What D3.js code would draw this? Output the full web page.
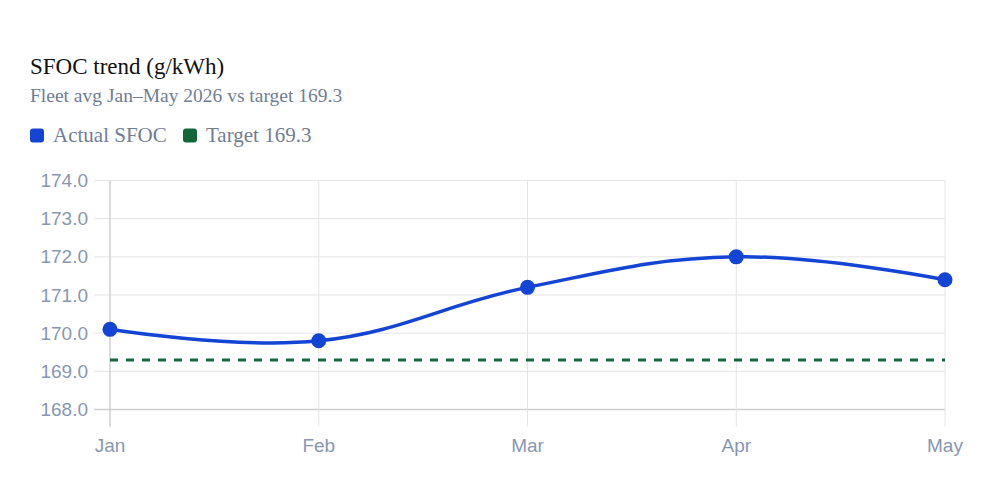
<!DOCTYPE html>
<html>
<head>
<meta charset="utf-8">
<script src="https://cdn.jsdelivr.net/npm/d3@7"></script>
<style>
  html, body { margin: 0; padding: 0; background: #fff; }
  svg { display: block; }
</style>
</head>
<body>
<svg id="canvas" width="1000" height="500"></svg>
<script>
var months = ["Jan", "Feb", "Mar", "Apr", "May"];
var actual = [170.1, 169.8, 171.2, 172.0, 171.4];
var target = 169.3;
var yTicks = [168, 169, 170, 171, 172, 173, 174];

var svg = d3.select('#canvas');

var serif = "'Liberation Serif', 'Times New Roman', serif";
var sans = "'Liberation Sans', Arial, sans-serif";
var tickColor = '#8797b2';
var gridColor = '#e4e4e4';
var blue = '#1444d4';
var green = '#11663a';

var plotLeft = 110, plotRight = 945, plotTop = 180.5, plotBottom = 409.5;

var x = d3.scalePoint()
    .domain(months)
    .range([plotLeft, plotRight]);

var y = d3.scaleLinear()
    .domain([168, 174])
    .range([plotBottom, plotTop]);

// title + subtitle
svg.append('text')
    .attr('x', 30)
    .attr('y', 74)
    .style('font-family', serif)
    .style('font-size', '23px')
    .style('fill', '#111')
    .text('SFOC trend (g/kWh)');

svg.append('text')
    .attr('x', 30)
    .attr('y', 102)
    .style('font-family', serif)
    .style('font-size', '19.5px')
    .style('fill', '#6f7d95')
    .text('Fleet avg Jan\u2013May 2026 vs target 169.3');

// legend
var legend = [
    { label: 'Actual SFOC', color: blue, x: 30 },
    { label: 'Target 169.3', color: green, x: 183 }
];

var lg = svg.selectAll('g.legend')
    .data(legend)
    .enter()
    .append('g')
    .attr('class', 'legend')
    .attr('transform', function(d) {
        return 'translate(' + d.x + ',128.5)';
    });

lg.append('rect')
    .attr('width', 14)
    .attr('height', 14)
    .attr('rx', 3)
    .style('fill', function(d) { return d.color; });

lg.append('text')
    .attr('x', 23)
    .attr('y', 13.5)
    .style('font-family', serif)
    .style('font-size', '21px')
    .style('fill', '#6f7d95')
    .text(function(d) { return d.label; });

// horizontal grid
svg.append('g')
    .selectAll('line')
    .data(yTicks)
    .enter()
    .append('line')
    .attr('x1', plotLeft - 16)
    .attr('x2', plotRight)
    .attr('y1', function(d) { return y(d); })
    .attr('y2', function(d) { return y(d); })
    .style('stroke', function(d) { return d === 168 ? '#cfcfcf' : gridColor; })
    .style('stroke-width', function(d) { return d === 168 ? 1.5 : 1; });

// vertical grid
svg.append('g')
    .selectAll('line')
    .data(months)
    .enter()
    .append('line')
    .attr('x1', function(d) { return x(d); })
    .attr('x2', function(d) { return x(d); })
    .attr('y1', plotTop)
    .attr('y2', plotBottom + 17)
    .style('stroke', function(d, i) { return i === 0 ? '#cfcfcf' : gridColor; })
    .style('stroke-width', function(d, i) { return i === 0 ? 1.5 : 1; });

// y tick labels
svg.append('g')
    .selectAll('text')
    .data(yTicks)
    .enter()
    .append('text')
    .attr('x', 88)
    .attr('y', function(d) { return y(d); })
    .attr('dy', '0.35em')
    .attr('text-anchor', 'end')
    .style('font-family', sans)
    .style('font-size', '19px')
    .style('fill', tickColor)
    .text(function(d) { return d3.format('.1f')(d); });

// x tick labels
svg.append('g')
    .selectAll('text')
    .data(months)
    .enter()
    .append('text')
    .attr('x', function(d) { return x(d); })
    .attr('y', 452)
    .attr('text-anchor', 'middle')
    .style('font-family', sans)
    .style('font-size', '19px')
    .style('fill', tickColor)
    .text(function(d) { return d; });

// target line
svg.append('line')
    .attr('x1', plotLeft)
    .attr('x2', plotRight)
    .attr('y1', y(target))
    .attr('y2', y(target))
    .style('stroke', green)
    .style('stroke-width', 3)
    .style('stroke-dasharray', '8,8');

// actual line
var line = d3.line()
    .x(function(d, i) { return x(months[i]); })
    .y(function(d) { return y(d); })
    .curve(d3.curveCardinal.tension(-0.2));

svg.append('path')
    .datum(actual)
    .attr('d', line)
    .style('fill', 'none')
    .style('stroke', blue)
    .style('stroke-width', 3.5);

svg.append('g')
    .selectAll('circle')
    .data(actual)
    .enter()
    .append('circle')
    .attr('cx', function(d, i) { return x(months[i]); })
    .attr('cy', function(d) { return y(d); })
    .attr('r', 7.5)
    .style('fill', blue);
</script>
</body>
</html>
